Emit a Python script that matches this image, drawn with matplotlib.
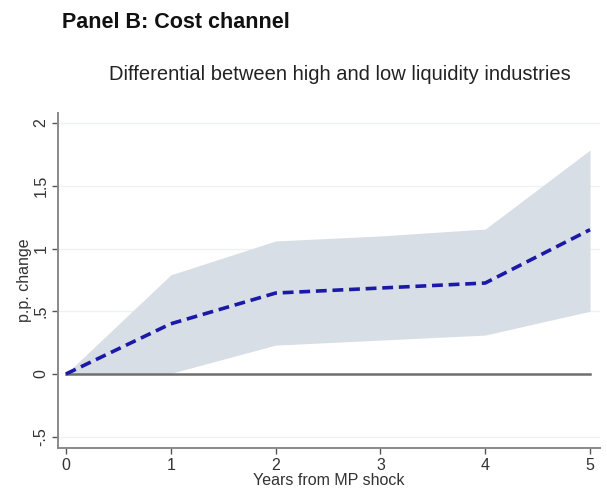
import matplotlib
matplotlib.use("Agg")
import matplotlib.pyplot as plt

plt.rcParams['font.family'] = ['Liberation Sans', 'DejaVu Sans']

years = [0, 1, 2, 3, 4, 5]
estimate = [0.0, 0.40, 0.645, 0.685, 0.725, 1.15]
upper = [0.0, 0.79, 1.06, 1.10, 1.155, 1.785]
lower = [0.0, 0.005, 0.23, 0.27, 0.31, 0.50]
ytick_vals = [-0.5, 0, 0.5, 1, 1.5, 2]
ytick_labels = ['-.5', '0', '.5', '1', '1.5', '2']

W, H = 607, 488
fig = plt.figure(figsize=(W / 100, H / 100), dpi=100)
ax = fig.add_axes([58 / W, 1 - 448 / H, 542 / W, 335 / H])

ax.fill_between(years, lower, upper, color='#d8dee5', linewidth=0, zorder=1)
ax.plot([0, 5], [0, 0], color='#6e6e6e', linewidth=1.8, zorder=2)
ax.plot(years, estimate, color='#1a1aa6', linewidth=2.6, linestyle=(0, (3, 1.6)), zorder=3)

ax.set_xlim(-0.076, 5.095)
ax.set_ylim(-0.59, 2.08)
ax.set_xticks(years)
ax.set_yticks(ytick_vals)
ax.set_yticklabels(ytick_labels, rotation=90, va='center')
for y in ytick_vals:
    if y != 0:
        ax.axhline(y, color='#eef1f3', linewidth=1.0, zorder=0)

for side in ('top', 'right'):
    ax.spines[side].set_visible(False)
for side in ('left', 'bottom'):
    ax.spines[side].set_color('#8a8a8a')
    ax.spines[side].set_linewidth(1.4)
ax.tick_params(colors='#555555', labelcolor='#333333', labelsize=11.5, length=4, width=1, pad=3)
ax.set_xlabel('Years from MP shock', fontsize=11.5, color='#333333', labelpad=0)
ax.set_ylabel('p.p. change', fontsize=11.5, color='#333333', labelpad=1)

fig.text(62 / W, 1 - 22 / H, 'Panel B: Cost channel', fontsize=15.5, fontweight='bold',
         color='#111111', va='center', ha='left')
fig.text(340 / W, 1 - 75 / H, 'Differential between high and low liquidity industries',
         fontsize=14.5, color='#222222', va='center', ha='center')

fig.savefig('out.png', dpi=100)
